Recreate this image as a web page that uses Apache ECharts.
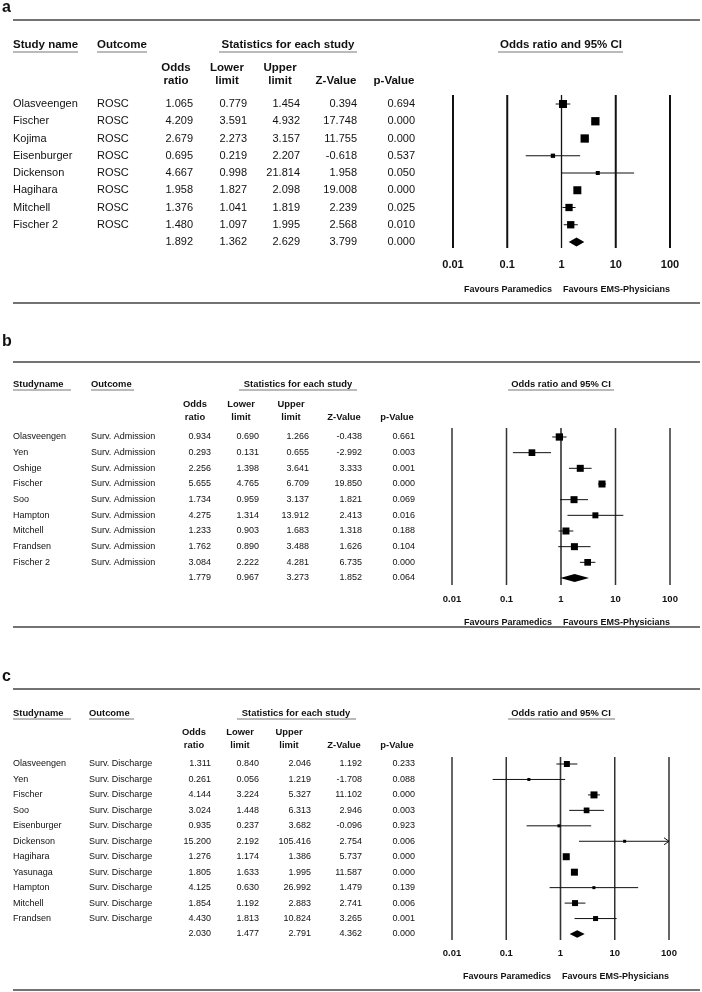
<!DOCTYPE html>
<html><head><meta charset="utf-8">
<script src="https://cdn.jsdelivr.net/npm/echarts@6/dist/echarts.min.js"></script>
<style>html,body{margin:0;padding:0;background:#fff}#c{width:702px;height:992px}</style>
</head><body><div id="c"></div>
<script>
// ---------------- DATA ----------------
const tickValues = [0.01, 0.1, 1, 10, 100];
const tickLabels = ['0.01', '0.1', '1', '10', '100'];
const favourLabels = ['Favours Paramedics', 'Favours EMS-Physicians'];
const colHeaders = ['Odds|ratio', 'Lower|limit', 'Upper|limit', 'Z-Value', 'p-Value'];

// Panel a: ROSC
const studiesA = ['Olasveengen', 'Fischer', 'Kojima', 'Eisenburger', 'Dickenson', 'Hagihara', 'Mitchell', 'Fischer 2'];
const outcomeA = 'ROSC';
const orA  = [1.065, 4.209, 2.679, 0.695, 4.667, 1.958, 1.376, 1.480];
const lowA = [0.779, 3.591, 2.273, 0.219, 0.998, 1.827, 1.041, 1.097];
const upA  = [1.454, 4.932, 3.157, 2.207, 21.814, 2.098, 1.819, 1.995];
const zA   = [0.394, 17.748, 11.755, -0.618, 1.958, 19.008, 2.239, 2.568];
const pA   = [0.694, 0.000, 0.000, 0.537, 0.050, 0.000, 0.025, 0.010];
const sumA = [1.892, 1.362, 2.629, 3.799, 0.000];
const weightA = [8, 8.3, 8.3, 4.3, 4, 8, 7.3, 7.3];

// Panel b: Survival to admission
const studiesB = ['Olasveengen', 'Yen', 'Oshige', 'Fischer', 'Soo', 'Hampton', 'Mitchell', 'Frandsen', 'Fischer 2'];
const outcomeB = 'Surv. Admission';
const orB  = [0.934, 0.293, 2.256, 5.655, 1.734, 4.275, 1.233, 1.762, 3.084];
const lowB = [0.690, 0.131, 1.398, 4.765, 0.959, 1.314, 0.903, 0.890, 2.222];
const upB  = [1.266, 0.655, 3.641, 6.709, 3.137, 13.912, 1.683, 3.488, 4.281];
const zB   = [-0.438, -2.992, 3.333, 19.850, 1.821, 2.413, 1.318, 1.626, 6.735];
const pB   = [0.661, 0.003, 0.001, 0.000, 0.069, 0.016, 0.188, 0.104, 0.000];
const sumB = [1.779, 0.967, 3.273, 1.852, 0.064];
const weightB = [7.3, 6.7, 7, 7, 7, 6, 7, 7, 6.7];

// Panel c: Survival to discharge
const studiesC = ['Olasveengen', 'Yen', 'Fischer', 'Soo', 'Eisenburger', 'Dickenson', 'Hagihara', 'Yasunaga', 'Hampton', 'Mitchell', 'Frandsen'];
const outcomeC = 'Surv. Discharge';
const orC  = [1.311, 0.261, 4.144, 3.024, 0.935, 15.200, 1.276, 1.805, 4.125, 1.854, 4.430];
const lowC = [0.840, 0.056, 3.224, 1.448, 0.237, 2.192, 1.174, 1.633, 0.630, 1.192, 1.813];
const upC  = [2.046, 1.219, 5.327, 6.313, 3.682, 105.416, 1.386, 1.995, 26.992, 2.883, 10.824];
const zC   = [1.192, -1.708, 11.102, 2.946, -0.096, 2.754, 5.737, 11.587, 1.479, 2.741, 3.265];
const pC   = [0.233, 0.088, 0.000, 0.003, 0.923, 0.006, 0.000, 0.000, 0.139, 0.006, 0.001];
const sumC = [2.030, 1.477, 2.791, 4.362, 0.000];
const weightC = [6, 3, 7, 5.7, 3, 3, 7, 7, 3, 6, 5];

// ---------------- LAYOUT / STYLE ----------------
const FF = '"Liberation Sans", Arial, Helvetica, sans-serif';
const panels = [
  { letter: 'a', letterY: 8, topLine: 20, bottomLine: 303,
    studies: studiesA, outcome: outcomeA, or: orA, lo: lowA, up: upA, z: zA, p: pA, sum: sumA, w: weightA,
    grid: { left: 453, top: 95, width: 217, height: 153 }, yMin: -0.522, yMax: 8.348,
    body: '11px ' + FF, head: 'bold 11.5px ' + FF, tick: 'bold 11px ', tickSize: 11, labelMargin: 11,
    favour: 'bold 9px ' + FF, favourY: 290, favourR: 552, favourL: 563,
    cols: [13, 97, 193, 247, 300, 357, 415],
    headY: 45, ulY: 52, ul: [[13, 78], [97, 147], [219, 357], [498, 623]],
    headCx: [13, 97, 288, 561], colCx: [176, 227, 280, 336, 394], colY1: 68, colY2: 81,
    refW: [2, 2, 1.3, 2, 2], refColor: '#111', diamondH: 4.5 },
  { letter: 'b', letterY: 342, topLine: 362, bottomLine: 627,
    studies: studiesB, outcome: outcomeB, or: orB, lo: lowB, up: upB, z: zB, p: pB, sum: sumB, w: weightB,
    grid: { left: 452, top: 428, width: 218, height: 157 }, yMin: -0.574, yMax: 9.447,
    body: '9px ' + FF, head: 'bold 9.4px ' + FF, tick: 'bold 9.5px ', tickSize: 9.5, labelMargin: 9,
    favour: 'bold 9px ' + FF, favourY: 623, favourR: 552, favourL: 563,
    cols: [13, 91, 211, 259, 309, 362, 415],
    headY: 384, ulY: 390, ul: [[13, 71], [91, 134], [239, 357], [508, 614]],
    headCx: [13, 91, 298, 561], colCx: [195, 241, 291, 344, 397], colY1: 404, colY2: 417,
    refW: [1.5, 1.5, 1.6, 1.5, 1.5], refColor: '#333', diamondH: 4 },
  { letter: 'c', letterY: 677, topLine: 689, bottomLine: 990,
    studies: studiesC, outcome: outcomeC, or: orC, lo: lowC, up: upC, z: zC, p: pC, sum: sumC, w: weightC,
    grid: { left: 452, top: 757, width: 217, height: 183 }, yMin: -0.453, yMax: 11.388,
    body: '9px ' + FF, head: 'bold 9.4px ' + FF, tick: 'bold 9.5px ', tickSize: 9.5, labelMargin: 8,
    favour: 'bold 9px ' + FF, favourY: 977, favourR: 551, favourL: 562,
    cols: [13, 89, 211, 259, 311, 362, 415],
    headY: 713, ulY: 719, ul: [[13, 71], [89, 134], [237, 356], [508, 615]],
    headCx: [13, 89, 296, 561], colCx: [194, 240, 289, 344, 397], colY1: 732, colY2: 745,
    refW: [1.5, 1.5, 1.6, 1.5, 1.5], refColor: '#333', diamondH: 3.8 }
];
const headTexts = [['Study name', 'Outcome', 'Statistics for each study', 'Odds ratio and 95% CI'],
                   ['Studyname', 'Outcome', 'Statistics for each study', 'Odds ratio and 95% CI'],
                   ['Studyname', 'Outcome', 'Statistics for each study', 'Odds ratio and 95% CI']];

const fmt = v => v.toFixed(3);

function txt(x, y, text, font, align, extra) {
  return Object.assign({ type: 'text', silent: true, style: {
    x: x, y: y, text: text, font: font, fill: '#111',
    align: align, textAlign: align, verticalAlign: 'middle', textVerticalAlign: 'middle' } }, extra || {});
}
function hline(x1, x2, y, color, w) {
  return { type: 'line', silent: true, shape: { x1: x1, y1: y, x2: x2, y2: y }, style: { stroke: color, lineWidth: w } };
}

const grids = [], xAxes = [], yAxes = [], series = [], graphics = [];

panels.forEach((P, gi) => {
  grids.push(Object.assign({ containLabel: false }, P.grid));
  xAxes.push({
    gridIndex: gi, type: 'log', logBase: 10, min: tickValues[0], max: tickValues[tickValues.length - 1],
    axisLine: { show: false }, axisTick: { show: false }, splitLine: { show: false },
    axisLabel: {
      margin: P.labelMargin, color: '#111', fontWeight: 'bold', fontSize: P.tickSize, fontFamily: FF,
      formatter: v => { const k = Math.round(Math.log10(v)) - Math.round(Math.log10(tickValues[0])); return tickLabels[k] || ''; }
    }
  });
  yAxes.push({ gridIndex: gi, type: 'value', inverse: true, min: P.yMin, max: P.yMax, show: false });

  // reference vertical lines at decades
  series.push({
    type: 'custom', xAxisIndex: gi, yAxisIndex: gi, silent: true, clip: false,
    data: tickValues.map((v, k) => [v, k]),
    renderItem: (params, api) => {
      const v = api.value(0), k = params.dataIndex;
      const a = api.coord([v, P.yMin]), b = api.coord([v, P.yMax]);
      return { type: 'line', shape: { x1: a[0], y1: a[1], x2: b[0], y2: b[1] },
               style: { stroke: P.refColor, lineWidth: P.refW[k] } };
    }
  });

  // study boxes & whiskers
  series.push({
    type: 'custom', xAxisIndex: gi, yAxisIndex: gi, silent: true, clip: false,
    data: P.or.map((o, i) => [o, i, P.lo[i], P.up[i], P.w[i]]),
    renderItem: (params, api) => {
      const o = api.value(0), i = api.value(1), l = api.value(2), u = api.value(3), s = api.value(4);
      const top = tickValues[tickValues.length - 1];
      const c = api.coord([o, i]);
      const xl = api.coord([l, i])[0];
      const xu = api.coord([Math.min(u, top), i])[0];
      const y = c[1];
      const ch = [
        { type: 'line', shape: { x1: xl, y1: y, x2: xu, y2: y }, style: { stroke: '#111', lineWidth: 1 } },
        { type: 'rect', shape: { x: c[0] - s / 2, y: y - s / 2, width: s, height: s }, style: { fill: '#000' } }
      ];
      if (u > top) {
        ch.push({ type: 'polyline', shape: { points: [[xu - 5, y - 3.5], [xu, y], [xu - 5, y + 3.5]] },
                  style: { stroke: '#111', fill: null, lineWidth: 1 } });
      }
      return { type: 'group', children: ch };
    }
  });

  // summary diamond
  const n = P.studies.length;
  series.push({
    type: 'custom', xAxisIndex: gi, yAxisIndex: gi, silent: true, clip: false,
    data: [[P.sum[0], n, P.sum[1], P.sum[2]]],
    renderItem: (params, api) => {
      const c = api.coord([api.value(0), api.value(1)]);
      const l = api.coord([api.value(2), api.value(1)]);
      const u = api.coord([api.value(3), api.value(1)]);
      const h = P.diamondH;
      return { type: 'polygon', shape: { points: [[l[0], c[1]], [c[0], c[1] - h], [u[0], c[1]], [c[0], c[1] + h]] },
               style: { fill: '#000' } };
    }
  });

  // table rows
  const rows = P.studies.map((s, i) => [s, P.outcome, fmt(P.or[i]), fmt(P.lo[i]), fmt(P.up[i]), fmt(P.z[i]), fmt(P.p[i])]);
  rows.push(['', '', fmt(P.sum[0]), fmt(P.sum[1]), fmt(P.sum[2]), fmt(P.sum[3]), fmt(P.sum[4])]);
  series.push({
    type: 'custom', xAxisIndex: gi, yAxisIndex: gi, silent: true, clip: false,
    data: rows.map((r, i) => [1, i]),
    renderItem: (params, api) => {
      const i = params.dataIndex;
      const y = api.coord([1, i])[1];
      return { type: 'group', children: rows[i].map((t, k) => ({
        type: 'text', style: { x: P.cols[k], y: y, text: t, font: P.body, fill: '#111',
          align: k < 2 ? 'left' : 'right', textAlign: k < 2 ? 'left' : 'right',
          verticalAlign: 'middle', textVerticalAlign: 'middle' } })) };
    }
  });

  // graphics: letter, separators, headers, underlines, favours
  graphics.push(txt(2, P.letterY, P.letter, 'bold 16px ' + FF, 'left'));
  graphics.push(hline(13, 700, P.topLine, '#444', 1.5));
  graphics.push(hline(13, 700, P.bottomLine, '#444', 1.5));
  const H = headTexts[gi];
  graphics.push(txt(P.headCx[0], P.headY, H[0], P.head, 'left'));
  graphics.push(txt(P.headCx[1], P.headY, H[1], P.head, 'left'));
  graphics.push(txt(P.headCx[2], P.headY, H[2], P.head, 'center'));
  graphics.push(txt(P.headCx[3], P.headY, H[3], P.head, 'center'));
  P.ul.forEach(u => graphics.push(hline(u[0], u[1], P.ulY, '#777', 1)));
  colHeaders.forEach((h, k) => {
    const parts = h.split('|');
    if (parts.length === 2) {
      graphics.push(txt(P.colCx[k], P.colY1, parts[0], P.head, 'center'));
      graphics.push(txt(P.colCx[k], P.colY2, parts[1], P.head, 'center'));
    } else {
      graphics.push(txt(P.colCx[k], P.colY2, parts[0], P.head, 'center'));
    }
  });
  graphics.push(txt(P.favourR, P.favourY, favourLabels[0], P.favour, 'right'));
  graphics.push(txt(P.favourL, P.favourY, favourLabels[1], P.favour, 'left'));
});

const chart = echarts.init(document.getElementById('c'), null, { renderer: 'canvas', width: 702, height: 992 });
chart.setOption({
  animation: false,
  backgroundColor: '#fff',
  grid: grids, xAxis: xAxes, yAxis: yAxes, series: series,
  graphic: { elements: graphics }
});
</script>
</body></html>
